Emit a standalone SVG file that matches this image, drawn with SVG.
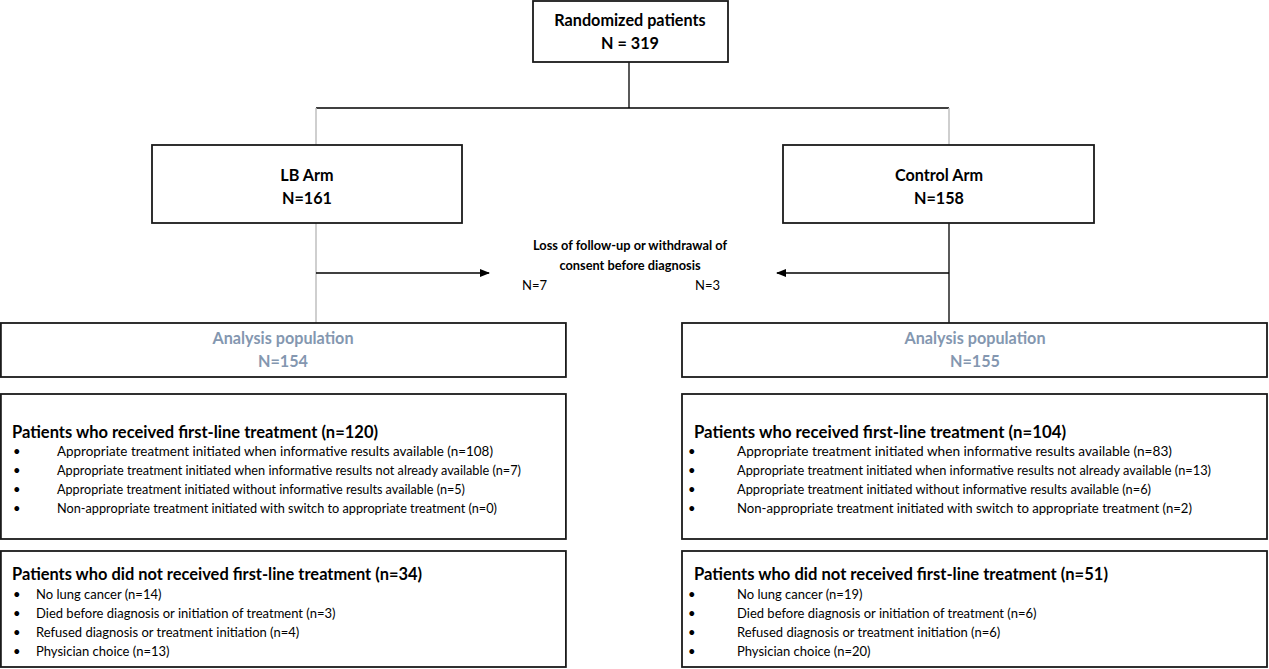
<svg xmlns="http://www.w3.org/2000/svg" width="1269" height="669" viewBox="0 0 1269 669">
<style>
.box{fill:#fff;stroke:#1a1a1a;stroke-width:1.8}
.t{font-family:Lato,"Liberation Sans",sans-serif;fill:#000}
.b{font-weight:bold}
.c{text-anchor:middle}
.big{font-size:16.2px}
.ana{fill:#8497b0;font-weight:bold;font-size:16.2px}
.head{font-size:16.5px;font-weight:bold}
.it{font-size:13px}
.blk{stroke:#000;stroke-width:1.3;fill:none}
.gry{stroke:#bfbfbf;stroke-width:1.5;fill:none}
</style>
<defs>
<marker id="ah" markerWidth="10" markerHeight="8" refX="9" refY="4" orient="auto" markerUnits="userSpaceOnUse">
<path d="M0,0 L10,4 L0,8 z" fill="#000"/>
</marker>
</defs>
<rect width="1269" height="669" fill="#fff"/>
<g id="connectors">
<line class="blk" x1="629" y1="62" x2="629" y2="108"/>
<line class="blk" x1="316" y1="108" x2="949" y2="108"/>
<line class="gry" x1="316" y1="108" x2="316" y2="145"/>
<line class="gry" x1="949" y1="108" x2="949" y2="145"/>
<line class="gry" x1="316" y1="223" x2="316" y2="323"/>
<line class="blk" x1="949" y1="223" x2="949" y2="323"/>
<line class="blk" x1="316" y1="273" x2="489" y2="273" marker-end="url(#ah)"/>
<line class="blk" x1="949" y1="273" x2="777" y2="273" stroke-width="1.8" marker-end="url(#ah)"/>
</g>
<g id="randomized">
<rect class="box" x="533" y="1" width="195" height="61"/>
<text class="t b big c" x="630" y="26">Randomized patients</text>
<text class="t b big c" x="630" y="49">N = 319</text>
</g>
<g id="lb-arm">
<rect class="box" x="152" y="145" width="310" height="78"/>
<text class="t b big c" x="307" y="181">LB Arm</text>
<text class="t b big c" x="307" y="204">N=161</text>
</g>
<g id="control-arm">
<rect class="box" x="783" y="145" width="311" height="78"/>
<text class="t b big c" x="939" y="181">Control Arm</text>
<text class="t b big c" x="939" y="204">N=158</text>
</g>
<g id="loss">
<text class="t b c" font-size="12.8" x="630" y="250">Loss of follow-up or withdrawal of</text>
<text class="t b c" font-size="12.8" x="630" y="270">consent before diagnosis</text>
<text class="t" font-size="13" x="522" y="290">N=7</text>
<text class="t" font-size="13" x="695" y="290">N=3</text>
</g>
<g id="analysis-lb">
<rect class="box" x="0.9" y="323" width="565" height="54"/>
<text class="t ana c" x="283" y="344">Analysis population</text>
<text class="t ana c" x="283" y="367">N=154</text>
</g>
<g id="analysis-control">
<rect class="box" x="682" y="323" width="585" height="54"/>
<text class="t ana c" x="975" y="344">Analysis population</text>
<text class="t ana c" x="975" y="367">N=155</text>
</g>
<g id="firstline-lb">
<rect class="box" x="0.9" y="394" width="565" height="145"/>
<text class="t head" x="12" y="438" textLength="366" lengthAdjust="spacingAndGlyphs">Patients who received first-line treatment (n=120)</text>
<text class="t it" x="13" y="456">•</text>
<text class="t it" x="57" y="456" textLength="436" lengthAdjust="spacingAndGlyphs">Appropriate treatment initiated when informative results available (n=108)</text>
<text class="t it" x="13" y="475">•</text>
<text class="t it" x="57" y="475" textLength="464" lengthAdjust="spacingAndGlyphs">Appropriate treatment initiated when informative results not already available (n=7)</text>
<text class="t it" x="13" y="494">•</text>
<text class="t it" x="57" y="494" textLength="408" lengthAdjust="spacingAndGlyphs">Appropriate treatment initiated without informative results available (n=5)</text>
<text class="t it" x="13" y="513">•</text>
<text class="t it" x="57" y="513" textLength="440" lengthAdjust="spacingAndGlyphs">Non-appropriate treatment initiated with switch to appropriate treatment (n=0)</text>
</g>
<g id="nofirstline-lb">
<rect class="box" x="0.9" y="551" width="565" height="116"/>
<text class="t head" x="12" y="580" textLength="410" lengthAdjust="spacingAndGlyphs">Patients who did not received first-line treatment (n=34)</text>
<text class="t it" x="13" y="599">•</text>
<text class="t it" x="36" y="599">No lung cancer (n=14)</text>
<text class="t it" x="13" y="618">•</text>
<text class="t it" x="36" y="618">Died before diagnosis or initiation of treatment (n=3)</text>
<text class="t it" x="13" y="637">•</text>
<text class="t it" x="36" y="637">Refused diagnosis or treatment initiation (n=4)</text>
<text class="t it" x="13" y="656">•</text>
<text class="t it" x="36" y="656">Physician choice (n=13)</text>
</g>
<g id="firstline-control">
<rect class="box" x="682" y="394" width="585" height="145"/>
<text class="t head" x="694" y="438" textLength="372" lengthAdjust="spacingAndGlyphs">Patients who received first-line treatment (n=104)</text>
<text class="t it" x="688" y="456">•</text>
<text class="t it" x="737" y="456" textLength="435" lengthAdjust="spacingAndGlyphs">Appropriate treatment initiated when informative results available (n=83)</text>
<text class="t it" x="688" y="475">•</text>
<text class="t it" x="737" y="475" textLength="474" lengthAdjust="spacingAndGlyphs">Appropriate treatment initiated when informative results not already available (n=13)</text>
<text class="t it" x="688" y="494">•</text>
<text class="t it" x="737" y="494" textLength="414" lengthAdjust="spacingAndGlyphs">Appropriate treatment initiated without informative results available (n=6)</text>
<text class="t it" x="688" y="513">•</text>
<text class="t it" x="737" y="513" textLength="455" lengthAdjust="spacingAndGlyphs">Non-appropriate treatment initiated with switch to appropriate treatment (n=2)</text>
</g>
<g id="nofirstline-control">
<rect class="box" x="682" y="551" width="585" height="116"/>
<text class="t head" x="694" y="580" textLength="414" lengthAdjust="spacingAndGlyphs">Patients who did not received first-line treatment (n=51)</text>
<text class="t it" x="688" y="599">•</text>
<text class="t it" x="737" y="599">No lung cancer (n=19)</text>
<text class="t it" x="688" y="618">•</text>
<text class="t it" x="737" y="618">Died before diagnosis or initiation of treatment (n=6)</text>
<text class="t it" x="688" y="637">•</text>
<text class="t it" x="737" y="637">Refused diagnosis or treatment initiation (n=6)</text>
<text class="t it" x="688" y="656">•</text>
<text class="t it" x="737" y="656">Physician choice (n=20)</text>
</g>
</svg>
